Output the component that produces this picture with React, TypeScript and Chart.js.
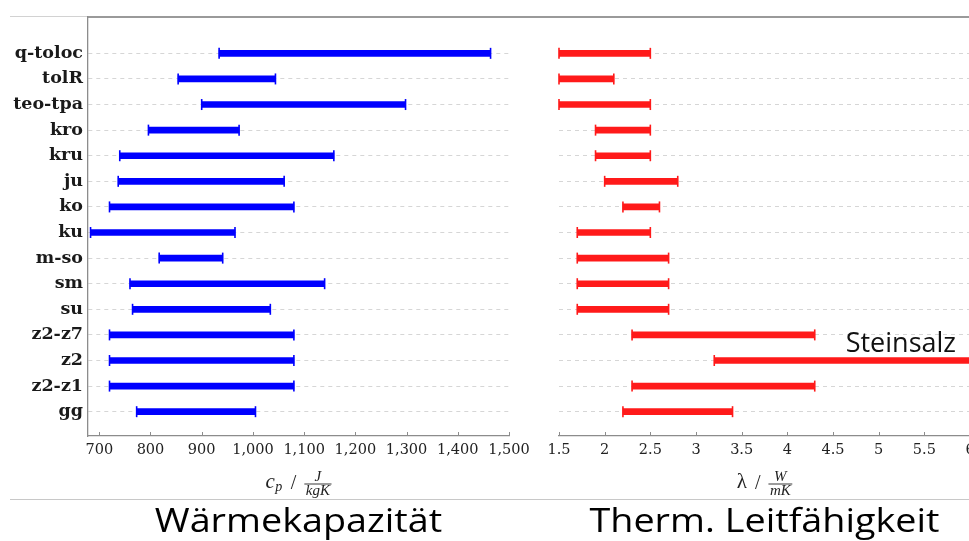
import React, { useEffect, useRef } from 'react';
import { Chart, registerables } from 'chart.js';

Chart.register(...registerables);

// ---------------- data ----------------
const categories = ['q-toloc', 'tolR', 'teo-tpa', 'kro', 'kru', 'ju', 'ko', 'ku', 'm-so', 'sm', 'su', 'z2-z7', 'z2', 'z2-z1', 'gg'];

const cpMin = [934, 854, 900, 796, 740, 737, 720, 683, 817, 760, 765, 720, 720, 720, 773];
const cpMax = [1464, 1044, 1298, 973, 1158, 1061, 1080, 965, 941, 1140, 1034, 1080, 1080, 1080, 1005];

const lambdaMin = [1.5, 1.5, 1.5, 1.9, 1.9, 2.0, 2.2, 1.7, 1.7, 1.7, 1.7, 2.3, 3.2, 2.3, 2.2];
const lambdaMax = [2.5, 2.1, 2.5, 2.5, 2.5, 2.8, 2.6, 2.5, 2.7, 2.7, 2.7, 4.3, 6.0, 4.3, 3.4];

const cpTicks = [700, 800, 900, 1000, 1100, 1200, 1300, 1400, 1500];
const cpTickLabels = ['700', '800', '900', '1,000', '1,100', '1,200', '1,300', '1,400', '1,500'];
const lambdaTicks = [1.5, 2, 2.5, 3, 3.5, 4, 4.5, 5, 5.5, 6];
const lambdaTickLabels = ['1.5', '2', '2.5', '3', '3.5', '4', '4.5', '5', '5.5', '6'];

const cpRange = [678, 1500];
const lambdaRange = [1.5, 6];
const rowRange = [-1.42, 14.95];

const panelTitles = ['Wärmekapazität', 'Therm. Leitfähigkeit'];
const noteText = 'Steinsalz';
const noteRow = 12;

// ---------------- styling ----------------
const BLUE = '#0000ff';
const RED = '#ff1a1a';
const AXIS = '#8c8c8c';
const GRID = '#d6d6d6';
const TICK_FONT = 'DejaVu Serif';

type MathSpec = { sym: string; symItalic: boolean; sub?: string; num: string; den: string };

function drawAxisMath(ctx: CanvasRenderingContext2D, cx: number, barY: number, m: MathSpec) {
  const symFont = `${m.symItalic ? 'italic ' : ''}21px "Liberation Serif"`;
  const subFont = 'italic 14px "Liberation Serif"';
  const slashFont = '20px "Liberation Serif"';
  const fracFont = 'italic 15px "Liberation Serif"';
  ctx.font = symFont;
  const wSym = ctx.measureText(m.sym).width;
  ctx.font = subFont;
  const wSub = m.sub ? ctx.measureText(m.sub).width + 1 : 0;
  ctx.font = slashFont;
  const wSlash = ctx.measureText('/').width;
  ctx.font = fracFont;
  const wNum = ctx.measureText(m.num).width;
  const wDen = ctx.measureText(m.den).width;
  const wFrac = Math.max(wNum, wDen) + 3;
  const gap = 8;
  const total = wSym + wSub + gap + wSlash + gap + wFrac;
  let x = cx - total / 2;
  ctx.fillStyle = '#222';
  ctx.textAlign = 'left';
  ctx.textBaseline = 'alphabetic';
  ctx.font = symFont;
  ctx.fillText(m.sym, x, barY + 3.5);
  x += wSym;
  if (m.sub) {
    ctx.font = subFont;
    ctx.fillText(m.sub, x + 0.5, barY + 6.5);
    x += wSub;
  }
  x += gap;
  ctx.font = slashFont;
  ctx.fillText('/', x, barY + 5);
  x += wSlash + gap;
  ctx.font = fracFont;
  ctx.fillText(m.num, x + (wFrac - wNum) / 2, barY - 3.5);
  ctx.fillText(m.den, x + (wFrac - wDen) / 2, barY + 11);
  ctx.strokeStyle = '#222';
  ctx.lineWidth = 0.9;
  ctx.beginPath();
  ctx.moveTo(x, barY);
  ctx.lineTo(x + wFrac, barY);
  ctx.stroke();
}

const decorPlugin = {
  id: 'decor',
  afterDraw(chart: any, _args: any, opts: any) {
    const ctx: CanvasRenderingContext2D = chart.ctx;
    const xs = chart.scales.x;
    const ys = chart.scales.y;
    const area = chart.chartArea;
    ctx.save();
    // inward tick marks
    ctx.strokeStyle = AXIS;
    ctx.lineWidth = 1;
    xs.ticks.forEach((t: any) => {
      const px = Math.round(xs.getPixelForValue(t.value)) + 0.5;
      ctx.beginPath();
      ctx.moveTo(px, area.bottom);
      ctx.lineTo(px, area.bottom - 4);
      ctx.stroke();
    });
    const cx = (area.left + area.right) / 2;
    // axis label (math)
    drawAxisMath(ctx, cx, area.bottom + 48, opts.math);
    // panel title
    ctx.save();
    ctx.translate(cx, area.bottom + 95.7);
    ctx.scale(1.18, 1);
    ctx.font = '32px "Open Sans"';
    ctx.fillStyle = '#000';
    ctx.textAlign = 'center';
    ctx.textBaseline = 'alphabetic';
    ctx.fillText(opts.title, 0, 0);
    ctx.restore();
    // annotation
    if (opts.note) {
      ctx.font = '27px "Open Sans"';
      ctx.fillStyle = '#111';
      ctx.textAlign = 'right';
      ctx.textBaseline = 'alphabetic';
      ctx.fillText(opts.note, area.right - 14, ys.getPixelForValue(opts.noteRow) - 8.6);
    }
    ctx.restore();
  },
};

function buildConfig(p: {
  mins: number[];
  maxs: number[];
  color: string;
  range: number[];
  ticks: number[];
  tickLabels: string[];
  yWidth: number;
  showLabels: boolean;
  padRight: number;
  math: MathSpec;
  title: string;
  note?: string;
}): any {
  const bars = categories.map((_, i) => ({ x: [p.mins[i], p.maxs[i]], y: i }));
  const caps = [
    ...categories.map((_, i) => ({ x: p.mins[i], y: i })),
    ...categories.map((_, i) => ({ x: p.maxs[i], y: i })),
  ];
  return {
    type: 'bar',
    data: {
      datasets: [
        {
          type: 'bar',
          data: bars,
          backgroundColor: p.color,
          borderWidth: 0,
          barThickness: 6,
          order: 2,
        },
        {
          type: 'scatter',
          data: caps,
          showLine: false,
          pointStyle: 'line',
          rotation: 90,
          pointRadius: 5.5,
          pointHoverRadius: 5.5,
          borderColor: p.color,
          backgroundColor: p.color,
          pointBorderWidth: 1.6,
          borderWidth: 1.6,
          order: 1,
          clip: false,
        },
      ],
    },
    options: {
      indexAxis: 'y',
      animation: false,
      responsive: false,
      devicePixelRatio: 1,
      events: [],
      layout: { padding: { top: 17, right: p.padRight, left: 0, bottom: 0 } },
      plugins: {
        legend: { display: false },
        tooltip: { enabled: false },
        decor: { math: p.math, title: p.title, note: p.note, noteRow },
      },
      scales: {
        x: {
          type: 'linear',
          position: 'bottom',
          min: p.range[0],
          max: p.range[1],
          offset: false,
          afterBuildTicks: (s: any) => {
            s.ticks = p.ticks.map((v) => ({ value: v }));
          },
          afterFit: (s: any) => {
            s.height = 105;
          },
          grid: { display: false, drawTicks: false },
          border: { display: true, color: AXIS, width: 1.3 },
          ticks: {
            autoSkip: false,
            maxRotation: 0,
            padding: 6,
            color: '#222',
            font: { family: TICK_FONT, size: 14.5 },
            callback: (_v: any, i: number) => p.tickLabels[i],
          },
        },
        y: {
          type: 'linear',
          reverse: true,
          min: rowRange[0],
          max: rowRange[1],
          offset: false,
          afterBuildTicks: (s: any) => {
            s.ticks = categories.map((_, i) => ({ value: i }));
          },
          afterFit: (s: any) => {
            s.width = p.yWidth;
          },
          grid: { color: GRID, lineWidth: 1, drawTicks: false, offset: false },
          border: { display: p.showLabels, color: AXIS, width: 1.3, dash: [4, 4] },
          ticks: {
            display: p.showLabels,
            autoSkip: false,
            padding: 5,
            color: '#1a1a1a',
            font: { family: TICK_FONT, size: 17.5, weight: 'bold' },
            callback: (v: any) => categories[Math.round(v)] ?? '',
          },
        },
      },
    },
    plugins: [decorPlugin],
  };
}

const LEFT_W = 537;
const RIGHT_X = 537;
const RIGHT_W = 445;

export default function App() {
  const leftRef = useRef<HTMLCanvasElement | null>(null);
  const rightRef = useRef<HTMLCanvasElement | null>(null);

  useEffect(() => {
    const left = new Chart(
      leftRef.current as HTMLCanvasElement,
      buildConfig({
        mins: cpMin,
        maxs: cpMax,
        color: BLUE,
        range: cpRange,
        ticks: cpTicks,
        tickLabels: cpTickLabels,
        yWidth: 88,
        showLabels: true,
        padRight: LEFT_W - 509,
        math: { sym: 'c', symItalic: true, sub: 'p', num: 'J', den: 'kgK' },
        title: panelTitles[0],
      })
    );
    const right = new Chart(
      rightRef.current as HTMLCanvasElement,
      buildConfig({
        mins: lambdaMin,
        maxs: lambdaMax,
        color: RED,
        range: lambdaRange,
        ticks: lambdaTicks,
        tickLabels: lambdaTickLabels,
        yWidth: 559 - RIGHT_X,
        showLabels: false,
        padRight: RIGHT_X + RIGHT_W - 970,
        math: { sym: 'λ', symItalic: false, num: 'W', den: 'mK' },
        title: panelTitles[1],
        note: noteText,
      })
    );
    return () => {
      left.destroy();
      right.destroy();
    };
  }, []);

  return (
    <div
      style={{
        position: 'fixed',
        left: 0,
        top: 0,
        width: 969,
        height: 541,
        overflow: 'hidden',
        background: '#fff',
      }}
    >
      <div style={{ position: 'absolute', left: 10, top: 16, width: 78, height: 1, background: '#d2d2d2' }} />
      <div style={{ position: 'absolute', left: 88, top: 16, width: 881, height: 2, background: '#9a9a9a' }} />
      <div style={{ position: 'absolute', left: 10, top: 499, width: 959, height: 1, background: '#c8c8c8' }} />
      <canvas
        ref={leftRef}
        width={LEFT_W}
        height={541}
        style={{ position: 'absolute', left: 0, top: 0, width: LEFT_W, height: 541 }}
      />
      <canvas
        ref={rightRef}
        width={RIGHT_W}
        height={541}
        style={{ position: 'absolute', left: RIGHT_X, top: 0, width: RIGHT_W, height: 541 }}
      />
    </div>
  );
}
